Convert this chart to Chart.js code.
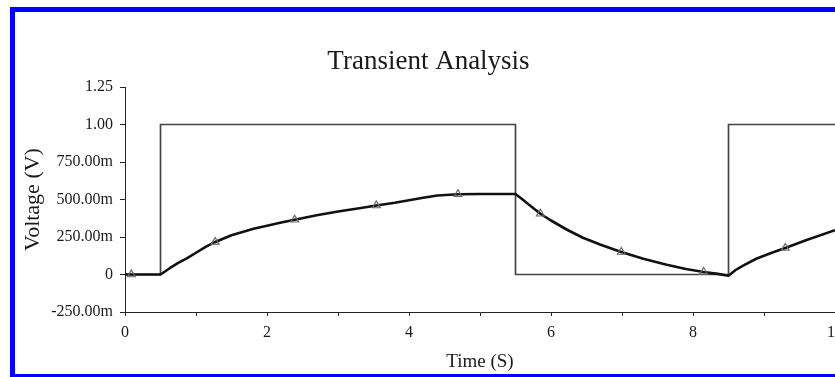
<!DOCTYPE html>
<html>
<head>
<meta charset="utf-8">
<script src="https://cdn.jsdelivr.net/npm/chart.js@4/dist/chart.umd.min.js"></script>
<style>
  html, body { margin: 0; padding: 0; width: 835px; height: 377px; overflow: hidden; background: #fff; }
  #frame { position: absolute; left: 10px; top: 7px; width: 900px; height: 362px;
           border: 5px solid #0000ff; border-right: none; }
  #plot { position: absolute; left: 0; top: 0; }
</style>
</head>
<body>
<div id="frame"></div>
<canvas id="plot" width="880" height="377" style="width:880px;height:377px"></canvas>
<script>
// Square-wave input pulse (V) against time (s)
const pulseTimes = [0, 0.5, 0.5, 5.5, 5.5, 8.5, 8.5, 10];
const pulseVolts = [0, 0, 1, 1, 0, 0, 1, 1];

// RC output response (V) against time (s)
const outTimes = [0, 0.5, 0.63, 0.75, 0.87, 1.0, 1.13, 1.27, 1.5, 1.81, 2.0, 2.2, 2.39, 2.7,
                  3.0, 3.3, 3.54, 3.8, 4.0, 4.2, 4.4, 4.69, 5.0, 5.5,
                  5.6, 5.7, 5.85, 6.0, 6.22, 6.45, 6.69, 6.99, 7.3, 7.63, 7.9, 8.15, 8.35, 8.5,
                  8.6, 8.7, 8.89, 9.1, 9.3, 9.6, 10];
const outVolts = [0, 0, 0.042, 0.077, 0.107, 0.145, 0.183, 0.217, 0.262, 0.305, 0.325, 0.346, 0.365, 0.395,
                  0.42, 0.442, 0.46, 0.478, 0.495, 0.512, 0.527, 0.535, 0.537, 0.537,
                  0.5, 0.462, 0.405, 0.36, 0.3, 0.245, 0.2, 0.15, 0.105, 0.065, 0.037, 0.017, 0.004, -0.008,
                  0.03, 0.058, 0.105, 0.143, 0.177, 0.23, 0.295];

// Probe markers placed along the output trace
const markerTimes = [0.09, 1.27, 2.39, 3.54, 4.69, 5.85, 6.99, 8.15, 9.3];
const markerVolts = [0, 0.217, 0.365, 0.46, 0.535, 0.405, 0.15, 0.017, 0.177];

// Axis tick labels
const yTickValues = [-0.25, 0, 0.25, 0.5, 0.75, 1, 1.25];
const yTickLabels = ['-250.00m', '0', '250.00m', '500.00m', '750.00m', '1.00', '1.25'];
const xTickValues = [0, 2, 4, 6, 8, 10];
const xTickLabels = ['0', '2', '4', '6', '8', '10'];

const pts = (xs, ys) => xs.map((x, i) => ({ x, y: ys[i] }));
const serif = "'Liberation Serif', 'Times New Roman', serif";

new Chart(document.getElementById('plot'), {
  type: 'scatter',
  data: {
    datasets: [
      {
        label: 'markers',
        data: pts(markerTimes, markerVolts),
        showLine: false,
        pointStyle: 'triangle',
        pointRadius: 4.5,
        borderWidth: 1.2,
        borderColor: '#6a6a6a',
        backgroundColor: 'rgba(255,255,255,0)',
        order: 0
      },
      {
        label: 'V(out)',
        data: pts(outTimes, outVolts),
        showLine: true,
        borderColor: '#111',
        borderWidth: 2.6,
        borderJoinStyle: 'round',
        pointRadius: 0,
        tension: 0,
        order: 1
      },
      {
        label: 'V(in)',
        data: pts(pulseTimes, pulseVolts),
        showLine: true,
        borderColor: '#444',
        borderWidth: 1.7,
        pointRadius: 0,
        tension: 0,
        order: 2
      }
    ]
  },
  options: {
    responsive: false,
    animation: false,
    events: [],
    layout: { padding: { left: 22, right: 45, top: 10, bottom: 0 } },
    plugins: {
      legend: { display: false },
      tooltip: { enabled: false },
      title: {
        display: true,
        text: 'Transient Analysis',
        color: '#1a1a1a',
        font: { family: serif, size: 27, weight: 'normal', lineHeight: 1.2 },
        padding: { top: 36, bottom: 8.6 }
      }
    },
    scales: {
      x: {
        type: 'linear',
        min: 0, max: 10,
        afterFit: s => { s.height = 65; },
        ticks: {
          stepSize: 1,
          autoSkip: false,
          maxRotation: 0,
          padding: 7,
          color: '#1a1a1a',
          font: { family: serif, size: 16 },
          callback: v => {
            const i = xTickValues.findIndex(t => Math.abs(t - v) < 1e-6);
            return i >= 0 ? xTickLabels[i] : '';
          }
        },
        grid: { drawOnChartArea: false, drawTicks: true, tickLength: 4, color: '#222' },
        border: { display: true, color: '#222', width: 1 },
        title: {
          display: true,
          text: 'Time (S)',
          color: '#1a1a1a',
          font: { family: serif, size: 19, lineHeight: 1.2 },
          padding: { top: 0, bottom: 4 }
        }
      },
      y: {
        type: 'linear',
        min: -0.25, max: 1.25,
        afterFit: s => { s.width = 103; },
        ticks: {
          stepSize: 0.25,
          padding: 7,
          color: '#1a1a1a',
          font: { family: serif, size: 16 },
          callback: v => {
            const i = yTickValues.findIndex(t => Math.abs(t - v) < 1e-6);
            return i >= 0 ? yTickLabels[i] : '';
          }
        },
        grid: { drawOnChartArea: false, drawTicks: true, tickLength: 5, color: '#222' },
        border: { display: true, color: '#222', width: 1 },
        title: {
          display: true,
          text: 'Voltage (V)',
          color: '#1a1a1a',
          font: { family: serif, size: 22, lineHeight: 1 },
          padding: { top: 0, bottom: 0 }
        }
      }
    }
  }
});
</script>
</body>
</html>
